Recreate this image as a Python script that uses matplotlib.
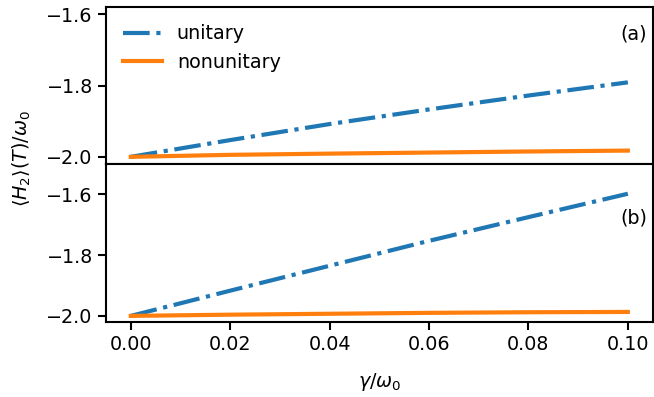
import matplotlib

matplotlib.use("Agg")
import matplotlib.pyplot as plt

# gamma / omega_0 grid
gamma = [0.00, 0.02, 0.04, 0.06, 0.08, 0.10]

# panel (a)
unitary_a = [-2.000, -1.953, -1.908, -1.867, -1.828, -1.791]
nonunitary_a = [-2.000, -1.9944, -1.991, -1.988, -1.985, -1.9825]

# panel (b)
unitary_b = [-2.000, -1.917, -1.835, -1.753, -1.675, -1.598]
nonunitary_b = [-2.000, -1.996, -1.993, -1.990, -1.988, -1.987]

yticks = [-2.0, -1.8, -1.6]
xticks = [0.00, 0.02, 0.04, 0.06, 0.08, 0.10]

plt.rcParams.update({
    "font.size": 13.8,
    "axes.linewidth": 1.5,
    "xtick.major.size": 6, "ytick.major.size": 6,
    "xtick.major.width": 1.5, "ytick.major.width": 1.5,
})

fig = plt.figure(figsize=(6.54, 3.97), dpi=100)
ax_a = fig.add_axes([0.162, 0.587, 0.836, 0.395])
ax_b = fig.add_axes([0.162, 0.189, 0.836, 0.398], sharex=ax_a)

for ax, uni, non, tag in [(ax_a, unitary_a, nonunitary_a, "(a)"),
                          (ax_b, unitary_b, nonunitary_b, "(b)")]:
    ax.plot(gamma, uni, ls="-.", lw=3, color="tab:blue", label="unitary")
    ax.plot(gamma, non, ls="-", lw=3, color="tab:orange", label="nonunitary")
    ax.set_yticks(yticks)
    ax.set_yticklabels([f"{v:.1f}".replace("-", "\u2212") for v in yticks])
    ax.text(0.99, 0.83 if tag == "(a)" else 0.66, tag, transform=ax.transAxes,
            ha="right", va="center")

ax_a.set_ylim(-2.02, -1.58)
ax_b.set_ylim(-2.02, -1.50)
ax_a.set_xlim(-0.005, 0.105)
ax_a.tick_params(axis="x", which="both", bottom=False, labelbottom=False)
ax_b.set_xticks(xticks)
ax_b.set_xticklabels([f"{v:.2f}" for v in xticks])

ax_a.legend(loc="upper left", frameon=False, handlelength=2.0)
ax_b.set_xlabel(r"$\gamma/\omega_0$", labelpad=12)
fig.text(0.033, 0.6, r"$\langle H_2\rangle(T)/\omega_0$", rotation=90,
         ha="center", va="center")

fig.savefig("out.png", dpi=100)
